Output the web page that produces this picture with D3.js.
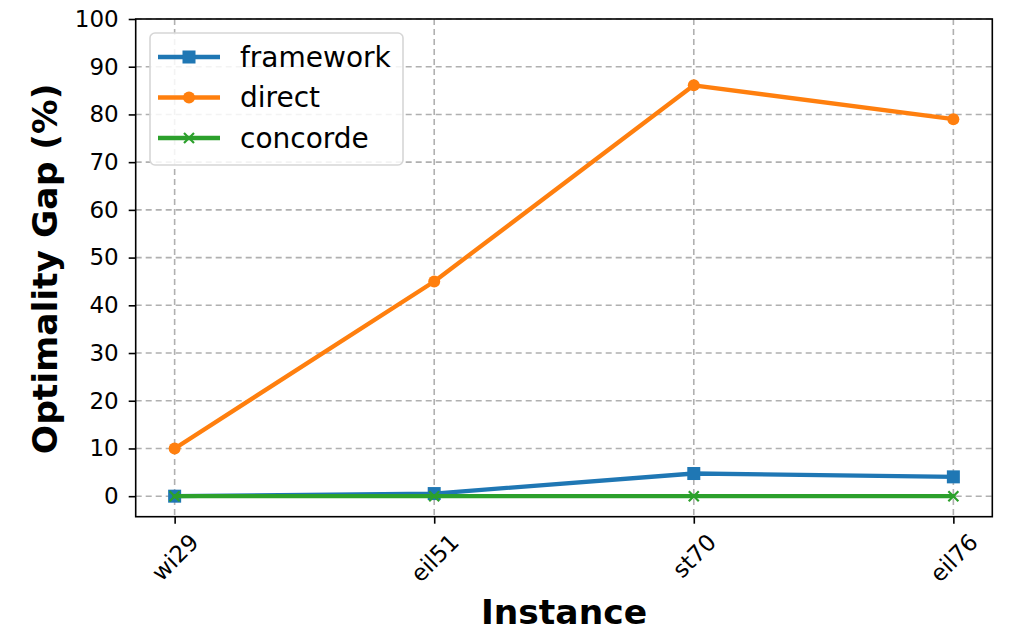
<!DOCTYPE html>
<html>
<head>
<meta charset="utf-8">
<script src="https://cdn.jsdelivr.net/npm/d3@7"></script>
<style>
  html, body { margin: 0; padding: 0; background: #fff; }
  svg { display: block; font-family: "DejaVu Sans", sans-serif; }
</style>
</head>
<body>
<svg id="chart" width="1013" height="635"></svg>
<script>
// Optimality gap per TSP instance for three solvers
const instances = ["wi29", "eil51", "st70", "eil76"];
const frameworkGap = [0.0, 0.55, 4.75, 4.05];
const directGap = [10.0, 45.0, 86.1, 79.0];
const concordeGap = [0.0, 0.0, 0.0, 0.0];
const yTicks = [0, 10, 20, 30, 40, 50, 60, 70, 80, 90, 100];

const series = [
  { name: "framework", values: frameworkGap, color: "#1f77b4", marker: "square" },
  { name: "direct", values: directGap, color: "#ff7f0e", marker: "circle" },
  { name: "concorde", values: concordeGap, color: "#2ca02c", marker: "x" }
];

const svg = d3.select("#chart");
const plot = { left: 135.7, right: 992.3, top: 19, bottom: 516.7 };
const tickFont = 23;

const x = d3.scaleLinear().domain([-0.15, instances.length - 1 + 0.15]).range([plot.left, plot.right]);
const y = d3.scaleLinear().domain([-4.3, 100]).range([plot.bottom, plot.top]);

// grid
const grid = svg.append("g").attr("stroke", "#b0b0b0").attr("stroke-width", 1.6)
  .attr("stroke-dasharray", "6,4").attr("fill", "none");
grid.selectAll("line.h").data(yTicks).join("line").attr("class", "h")
  .attr("x1", plot.left).attr("x2", plot.right)
  .attr("y1", d => y(d)).attr("y2", d => y(d));
grid.selectAll("line.v").data(instances).join("line").attr("class", "v")
  .attr("y1", plot.top).attr("y2", plot.bottom)
  .attr("x1", (d, i) => x(i)).attr("x2", (d, i) => x(i));

// series lines + markers
const line = d3.line().x((d, i) => x(i)).y(d => y(d));
function drawMarker(g, type, cx, cy, color, size) {
  if (type === "square") {
    g.append("rect").attr("x", cx - size / 2).attr("y", cy - size / 2)
      .attr("width", size).attr("height", size).attr("fill", color);
  } else if (type === "circle") {
    g.append("circle").attr("cx", cx).attr("cy", cy).attr("r", size / 2).attr("fill", color);
  } else {
    const h = size / 2;
    g.append("path").attr("d", `M${cx - h},${cy - h}L${cx + h},${cy + h}M${cx - h},${cy + h}L${cx + h},${cy - h}`)
      .attr("stroke", color).attr("stroke-width", 2.2).attr("fill", "none");
  }
}
const markerSize = { square: 13, circle: 12, x: 10 };

const lines = svg.append("g");
series.forEach(s => {
  const g = lines.append("g");
  g.append("path").datum(s.values).attr("d", line)
    .attr("fill", "none").attr("stroke", s.color).attr("stroke-width", 4.3)
    .attr("stroke-linejoin", "round").attr("stroke-linecap", "square");
  s.values.forEach((v, i) => drawMarker(g, s.marker, x(i), y(v), s.color, markerSize[s.marker]));
});

// axes
const yAxis = d3.axisLeft(y).tickValues(yTicks).tickSize(7).tickPadding(10).tickFormat(d3.format("d"));
const gy = svg.append("g").attr("transform", `translate(${plot.left},0)`).call(yAxis);
gy.select(".domain").remove();
gy.selectAll("line").attr("stroke", "#000").attr("stroke-width", 1.6);
gy.selectAll("text").attr("font-size", tickFont).attr("fill", "#000").attr("font-family", "DejaVu Sans");

const xAxis = d3.axisBottom(x).tickValues(d3.range(instances.length)).tickSize(7).tickFormat(i => instances[i]);
const gx = svg.append("g").attr("transform", `translate(0,${plot.bottom})`).call(xAxis);
gx.select(".domain").remove();
gx.selectAll("line").attr("stroke", "#000").attr("stroke-width", 1.6);
gx.selectAll("text")
  .attr("font-size", tickFont).attr("fill", "#000").attr("font-family", "DejaVu Sans")
  .attr("text-anchor", "middle").attr("dy", null).attr("y", null)
  .attr("dominant-baseline", "central")
  .attr("transform", function () {
    const w = this.getComputedTextLength();
    const h = tickFont * 0.9;
    const half = (w + h) * Math.SQRT1_2 / 2;
    return `translate(0,${7 + 7 + half}) rotate(-45)`;
  });

// frame
svg.append("rect").attr("x", plot.left).attr("y", plot.top)
  .attr("width", plot.right - plot.left).attr("height", plot.bottom - plot.top)
  .attr("fill", "none").attr("stroke", "#000").attr("stroke-width", 1.6);

// axis titles
svg.append("text").attr("x", (plot.left + plot.right) / 2).attr("y", 624)
  .attr("text-anchor", "middle").attr("font-size", 34.5).attr("font-weight", "bold")
  .text("Instance");
svg.append("text").attr("transform", `translate(57,${(plot.top + plot.bottom) / 2 + 1}) rotate(-90)`)
  .attr("text-anchor", "middle").attr("font-size", 34.5).attr("font-weight", "bold")
  .text("Optimality Gap (%)");

// legend
const legend = svg.append("g").attr("transform", "translate(150,33)");
legend.append("rect").attr("width", 253).attr("height", 132).attr("rx", 5)
  .attr("fill", "#fff").attr("fill-opacity", 0.85).attr("stroke", "#d6d6d6").attr("stroke-width", 1.6);
series.forEach((s, i) => {
  const cy = 24 + i * 40.5;
  const g = legend.append("g");
  g.append("line").attr("x1", 8).attr("x2", 70).attr("y1", cy).attr("y2", cy)
    .attr("stroke", s.color).attr("stroke-width", 4.3);
  drawMarker(g, s.marker, 39, cy, s.color, markerSize[s.marker]);
  g.append("text").attr("x", 90).attr("y", cy).attr("dominant-baseline", "central")
    .attr("font-size", 28).attr("fill", "#000").text(s.name);
});
</script>
</body>
</html>
